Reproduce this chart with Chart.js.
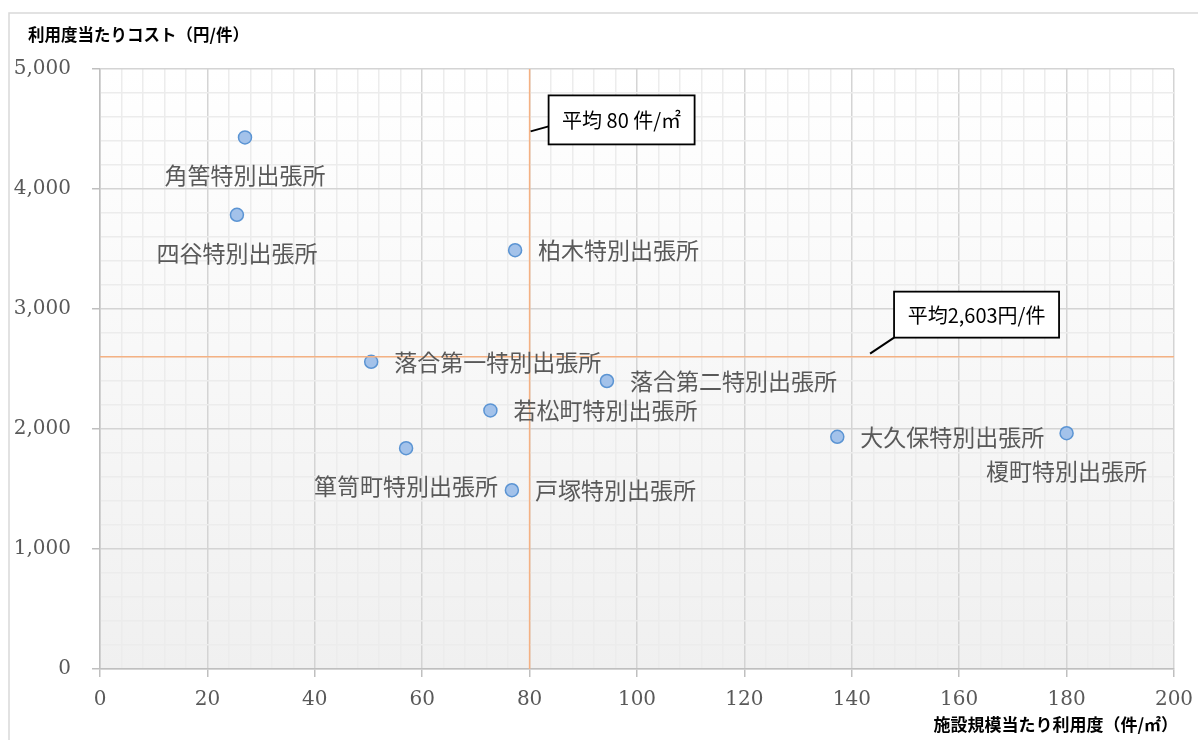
<!DOCTYPE html>
<html lang="ja">
<head>
<meta charset="utf-8">
<title>特別出張所 利用度とコスト</title>
<script src="https://cdn.jsdelivr.net/npm/chart.js@4"></script>
<style>
  html, body { margin: 0; padding: 0; background: #fff; }
  #chart { display: block; }
</style>
</head>
<body>
<canvas id="chart" width="1198" height="740"></canvas>
<script>
// 特別出張所ごとの値
const offices = ['角筈特別出張所', '四谷特別出張所', '柏木特別出張所', '落合第一特別出張所', '落合第二特別出張所',
                 '若松町特別出張所', '箪笥町特別出張所', '戸塚特別出張所', '大久保特別出張所', '榎町特別出張所'];
const usagePerArea = [27.0, 25.5, 77.3, 50.5, 94.4, 72.7, 57.0, 76.7, 137.3, 180.0];   // 件/㎡
const costPerUse = [4430, 3785, 3490, 2560, 2400, 2155, 1840, 1490, 1935, 1965];      // 円/件

const avgUsage = 80;
const avgCost = 2603;

const xTicks = [0, 20, 40, 60, 80, 100, 120, 140, 160, 180, 200];
const yTicks = [0, 1000, 2000, 3000, 4000, 5000];

const xTitle = '施設規模当たり利用度（件/㎡）';
const yTitle = '利用度当たりコスト（円/件）';

const points = offices.map((name, i) => ({ x: usagePerArea[i], y: costPerUse[i], name }));

// ラベルを点の下に置く出張所（それ以外は右側）
const labelBelow = new Set(['角筈特別出張所', '四谷特別出張所', '箪笥町特別出張所', '榎町特別出張所']);

const JP = '"Noto Sans CJK JP", "Noto Sans", sans-serif';
const MAJOR = '#d4d4d4';
const MINOR = '#ececec';

const backdrop = {
  id: 'backdrop',
  beforeDraw(chart) {
    const { ctx, chartArea: a } = chart;
    ctx.save();
    ctx.strokeStyle = '#d9d9d9';
    ctx.lineWidth = 1.5;
    ctx.strokeRect(9, 13, 1400, 900);
    const g = ctx.createLinearGradient(0, a.top, 0, a.bottom);
    g.addColorStop(0, '#ffffff');
    g.addColorStop(1, '#f0f0f0');
    ctx.fillStyle = g;
    ctx.fillRect(a.left, a.top, a.right - a.left, a.bottom - a.top);
    ctx.restore();
  }
};

const pointLabels = {
  id: 'pointLabels',
  afterDatasetsDraw(chart) {
    const { ctx } = chart;
    const meta = chart.getDatasetMeta(2);
    ctx.save();
    ctx.font = '23px ' + JP;
    ctx.fillStyle = '#595959';
    ctx.textBaseline = 'middle';
    meta.data.forEach((el, i) => {
      const name = points[i].name;
      if (labelBelow.has(name)) {
        ctx.textAlign = 'center';
        ctx.fillText(name, el.x, el.y + 38);
      } else {
        ctx.textAlign = 'left';
        ctx.fillText(name, el.x + 23, el.y);
      }
    });
    ctx.restore();
  }
};

function callout(ctx, text, from, to, box) {
  ctx.strokeStyle = '#000';
  ctx.lineWidth = 2;
  ctx.beginPath();
  ctx.moveTo(from[0], from[1]);
  ctx.lineTo(to[0], to[1]);
  ctx.stroke();
  ctx.fillStyle = '#fff';
  ctx.fillRect(box.x, box.y, box.w, box.h);
  ctx.lineWidth = 1.8;
  ctx.strokeRect(box.x, box.y, box.w, box.h);
  ctx.fillStyle = '#000';
  ctx.font = '20px ' + JP;
  ctx.textAlign = 'center';
  ctx.textBaseline = 'middle';
  ctx.fillText(text, box.x + box.w / 2, box.y + box.h / 2 + 1);
}

const averages = {
  id: 'averages',
  afterDraw(chart) {
    const { ctx, scales: { x, y } } = chart;
    ctx.save();
    // 平均利用度（縦線）
    const vx = x.getPixelForValue(avgUsage) + 1;
    const vy = y.getPixelForValue(4480);
    callout(ctx, `平均 ${avgUsage} 件/㎡`, [vx, vy], [vx + 18, vy - 5],
      { x: vx + 18, y: vy - 36, w: 146, h: 49 });
    // 平均コスト（横線）
    const hx = x.getPixelForValue(143.4);
    const hy = y.getPixelForValue(avgCost) - 3;
    callout(ctx, `平均${avgCost.toLocaleString('en-US')}円/件`, [hx, hy], [hx + 24, hy - 16],
      { x: hx + 24, y: hy - 62, w: 165, h: 46 });

    // 軸タイトル
    ctx.fillStyle = '#000';
    ctx.textBaseline = 'middle';
    ctx.font = 'bold 16.5px ' + JP;
    ctx.textAlign = 'left';
    ctx.fillText(yTitle, 28, 35);
    ctx.font = 'bold 17px ' + JP;
    ctx.textAlign = 'right';
    ctx.fillText(xTitle, 1178, 725);
    ctx.restore();
  }
};

const tickFont = { family: '"DejaVu Serif", "Liberation Serif", serif', size: 20 };

new Chart(document.getElementById('chart'), {
  type: 'scatter',
  data: {
    datasets: [
      {
        type: 'line',
        data: [{ x: avgUsage, y: 0 }, { x: avgUsage, y: 5000 }],
        borderColor: '#f4b183',
        borderWidth: 1.5,
        pointRadius: 0,
        fill: false
      },
      {
        type: 'line',
        data: [{ x: 0, y: avgCost }, { x: 200, y: avgCost }],
        borderColor: '#f4b183',
        borderWidth: 1.5,
        pointRadius: 0,
        fill: false
      },
      {
        data: points,
        pointRadius: 6.5,
        pointHoverRadius: 6.5,
        backgroundColor: '#a3c2ea',
        borderColor: '#5b94d3',
        borderWidth: 1.5
      }
    ]
  },
  options: {
    responsive: false,
    animation: false,
    layout: { padding: { left: 0, top: 69, right: 24, bottom: 0 } },
    plugins: {
      legend: { display: false },
      tooltip: { enabled: false }
    },
    scales: {
      x: {
        type: 'linear',
        min: 0,
        max: 200,
        afterFit: (scale) => {
          scale.height = 71;
          scale.paddingLeft = 0;
          scale.paddingRight = 0;
        },
        afterBuildTicks: (scale) => {
          const t = [];
          for (let v = 0; v <= 200; v += 4) t.push({ value: v });
          scale.ticks = t;
        },
        ticks: {
          autoSkip: false,
          maxRotation: 0,
          padding: 11,
          color: '#595959',
          font: tickFont,
          callback: (v) => (xTicks.includes(v) ? String(v) : '')
        },
        grid: {
          color: (c) => (c.tick && xTicks.includes(c.tick.value) ? MAJOR : MINOR),
          tickColor: (c) => (c.tick && xTicks.includes(c.tick.value) ? '#bfbfbf' : 'rgba(0,0,0,0)'),
          tickLength: 8,
          lineWidth: 1.5
        },
        border: { color: '#bfbfbf', width: 1.5 }
      },
      y: {
        type: 'linear',
        min: 0,
        max: 5000,
        afterFit: (scale) => { scale.width = 100; },
        afterBuildTicks: (scale) => {
          const t = [];
          for (let v = 0; v <= 5000; v += 200) t.push({ value: v });
          scale.ticks = t;
        },
        ticks: {
          autoSkip: false,
          padding: 21,
          color: '#595959',
          font: tickFont,
          callback: (v) => (yTicks.includes(v) ? v.toLocaleString('en-US') : '')
        },
        grid: {
          color: (c) => (c.tick && yTicks.includes(c.tick.value) ? MAJOR : MINOR),
          tickColor: (c) => (c.tick && yTicks.includes(c.tick.value) ? '#bfbfbf' : 'rgba(0,0,0,0)'),
          tickLength: 8,
          lineWidth: 1.5
        },
        border: { color: '#bfbfbf', width: 1.5 }
      }
    }
  },
  plugins: [backdrop, pointLabels, averages]
});
</script>
</body>
</html>
